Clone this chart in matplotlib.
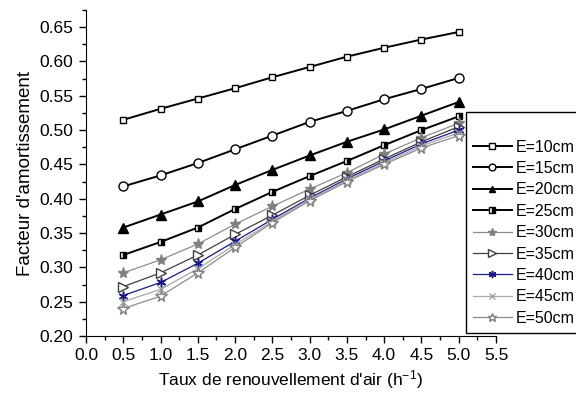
import matplotlib
matplotlib.use("Agg")
import matplotlib.pyplot as plt
from matplotlib.ticker import MultipleLocator

plt.rcParams['font.family'] = ['Liberation Sans', 'DejaVu Sans']
plt.rcParams['mathtext.default'] = 'regular'

x = [0.5, 1.0, 1.5, 2.0, 2.5, 3.0, 3.5, 4.0, 4.5, 5.0]
labels = ["E=10cm", "E=15cm", "E=20cm", "E=25cm", "E=30cm",
          "E=35cm", "E=40cm", "E=45cm", "E=50cm"]
e10 = [0.515, 0.531, 0.546, 0.561, 0.577, 0.592, 0.607, 0.620, 0.632, 0.643]
e15 = [0.418, 0.434, 0.452, 0.472, 0.492, 0.512, 0.528, 0.545, 0.560, 0.576]
e20 = [0.358, 0.377, 0.396, 0.420, 0.442, 0.463, 0.483, 0.501, 0.521, 0.541]
e25 = [0.318, 0.337, 0.358, 0.385, 0.410, 0.433, 0.455, 0.478, 0.500, 0.520]
e30 = [0.292, 0.311, 0.334, 0.363, 0.389, 0.414, 0.438, 0.465, 0.489, 0.510]
e35 = [0.272, 0.292, 0.318, 0.348, 0.376, 0.405, 0.432, 0.458, 0.483, 0.505]
e40 = [0.259, 0.278, 0.306, 0.338, 0.370, 0.401, 0.429, 0.455, 0.480, 0.500]
e45 = [0.250, 0.268, 0.298, 0.333, 0.367, 0.399, 0.427, 0.452, 0.477, 0.496]
e50 = [0.240, 0.258, 0.292, 0.329, 0.365, 0.397, 0.425, 0.450, 0.474, 0.492]
series = [e10, e15, e20, e25, e30, e35, e40, e45, e50]

styles = [
    dict(color='black', marker='s', mfc='white', mec='black', ms=5, lw=1.4),
    dict(color='black', marker='o', mfc='white', mec='black', ms=6.5, lw=1.4),
    dict(color='black', marker='^', mfc='black', mec='black', ms=6.5, lw=1.4),
    dict(color='black', marker='s', mfc='black', mec='black', ms=5, lw=1.4,
         fillstyle='right', markerfacecoloralt='white'),
    dict(color='#8c8c8c', marker='*', mfc='#808080', mec='#808080', ms=8, lw=0.9),
    dict(color='#404040', marker='>', mfc='white', mec='#404040', ms=7, lw=0.9),
    dict(color='#1a1a8c', marker=(6, 2, 0), mfc='#1a1a8c', mec='#1a1a8c', ms=7, lw=0.9, mew=1.1),
    dict(color='#a8a8a8', marker='x', mfc='#a0a0a0', mec='#a0a0a0', ms=5.5, lw=0.9),
    dict(color='#8c8c8c', marker='*', mfc='white', mec='#808080', ms=8.5, lw=0.9),
]

fs = 12.5
fig = plt.figure(figsize=(5.76, 3.99), dpi=100)
ax = fig.add_axes([86 / 576, 1 - 336 / 399, 410 / 576, 326 / 399])

for y, lab, st in zip(series, labels, styles):
    ax.plot(x, y, label=lab, **st)

ax.set_xlim(0, 5.5)
ax.set_ylim(0.2, 0.675)
ax.xaxis.set_minor_locator(MultipleLocator(0.25))
ax.yaxis.set_minor_locator(MultipleLocator(0.025))
ax.set_xticks([i * 0.5 for i in range(12)])
ax.set_xticklabels(["%.1f" % (i * 0.5) for i in range(12)])
ax.set_yticks([0.20 + i * 0.05 for i in range(10)])
ax.set_yticklabels(["%.2f" % (0.20 + i * 0.05) for i in range(10)])
ax.spines['top'].set_visible(False)
ax.spines['right'].set_visible(False)
ax.tick_params(which='major', direction='out', length=5, width=1, labelsize=fs, pad=4)
ax.tick_params(which='minor', direction='out', length=3, width=1)

ax.set_xlabel("Taux de renouvellement d'air (h$^{-1}$)", fontsize=fs, labelpad=3)
ax.set_ylabel("Facteur d'amortissement", fontsize=13.5, labelpad=4)

leg = fig.legend(loc='upper left', bbox_to_anchor=(466 / 576, 1 - 112 / 399),
                 bbox_transform=fig.transFigure, fontsize=11.5, frameon=True,
                 fancybox=False, edgecolor='black', framealpha=1,
                 handlelength=2.4, handletextpad=0.25, borderpad=0.45,
                 borderaxespad=0, labelspacing=0.40, markerscale=0.75,
                 title=' ', title_fontsize=11)
leg.get_frame().set_linewidth(1.0)

fig.savefig('out.png', dpi=100)
